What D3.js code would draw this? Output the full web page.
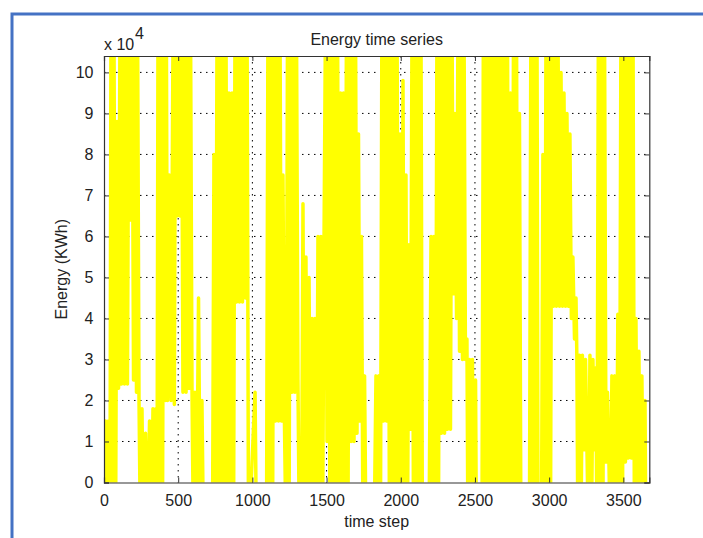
<!DOCTYPE html>
<html><head><meta charset="utf-8">
<script src="https://cdn.jsdelivr.net/npm/d3@7"></script>
<style>html,body{margin:0;padding:0;background:#fff;}svg{display:block;}</style>
</head><body>
<svg id="c" width="703" height="538"></svg>
<script>
// Energy time series (values beyond the axis limits are clipped, as in the original)
const steps = [0,10,20,30,40,47,57,67,78,88,98,108,118,128,138,148,158,168,179,189,199,209,219,226,236,
246,256,266,280,293,307,320,330,340,350,357,364,374,384,394,404,414,420,428,440,452,466,474,482,
492,502,512,522,532,543,553,563,573,583,593,603,613,623,637,650,660,671,731,741,751,
762,772,782,792,802,812,822,832,842,852,863,873,883,893,903,913,923,933,943,954,964,974,1018,1028,1095,
1105,1115,1125,1136,1146,1156,1166,1176,1186,1196,1206,1216,1227,1237,1247,1257,1267,1277,1287,1297,1307,
1317,1331,1341,1351,1361,1371,1382,1392,1402,1412,1422,1432,1442,1452,1462,1473,1483,1493,1503,1513,1523,1533,1543,1553,1564,1574,1584,
1594,1604,1614,1624,1634,1644,1655,1665,1675,1685,1695,1705,1715,1725,1735,1746,1756,1766,1820,
1833,1843,1853,1863,1873,1884,1894,1904,1914,1924,1934,1944,1954,1964,1975,1985,
1995,2005,2015,2025,2035,2045,2055,2066,2076,2086,2096,2106,2116,2126,2136,2146,2190,
2204,2214,2224,2234,2244,2254,2264,2274,2285,2295,2305,2315,2325,2335,2345,2355,2365,2376,
2386,2396,2406,2416,2426,2436,2446,2453,2463,2473,2483,2493,2504,2510,2547,
2557,2567,2578,2588,2598,2608,2618,2628,2638,2648,2659,2669,2679,2689,2699,2709,2719,2729,2739,2750,
2760,2770,2780,2790,2800,2810,2867,2877,2888,2898,2908,2918,2925,2948,2958,2969,
2979,2989,2999,3009,3019,3029,3039,3049,3059,3070,3080,3090,3100,3110,3120,3130,3140,
3150,3160,3171,3181,3187,3194,3204,3214,3224,3235,3245,3255,3265,3275,3285,3295,3305,3315,3322,
3332,3342,3352,3362,3373,3383,3393,3403,3413,3423,3433,3443,3453,3463,3474,
3484,3494,3504,3514,3524,3534,3544,3554,3565,3575,3585,3595,3605,3615,3625,3636,3646,3652,3675];
const energy = [3000,15000,-15000,15000,-15000,115000,-15000,115000,-15000,88000,23000,115000,24000,115000,24000,115000,24000,115000,64000,115000,25000,115000,22000,115000,20000,
-15000,18000,-15000,12000,-15000,15000,-15000,18000,-15000,18000,-15000,115000,-15000,115000,-15000,115000,20000,115000,20000,75000,20000,115000,19000,115000,
65000,115000,65000,115000,22000,115000,22000,115000,23000,115000,23000,-15000,22000,-15000,45000,-15000,20000,-15000,-15000,80000,-15000,
115000,-15000,115000,-15000,115000,-15000,115000,-15000,95000,-15000,95000,-15000,115000,44000,115000,44000,115000,44000,115000,45000,115000,-15000,22000,-15000,-15000,
115000,-15000,115000,-15000,115000,15000,115000,15000,115000,15000,75000,15000,-15000,115000,-15000,115000,22000,115000,22000,115000,25000,
-15000,-15000,68000,-15000,55000,-15000,50000,-15000,40000,-15000,40000,-15000,60000,-15000,60000,-15000,60000,115000,10000,115000,-15000,115000,-15000,115000,-15000,115000,-15000,
95000,-15000,95000,-15000,115000,-15000,115000,10000,115000,10000,115000,12000,85000,15000,60000,-15000,26000,-15000,-15000,
26000,-15000,26000,-15000,115000,15000,115000,15000,115000,-15000,115000,-15000,115000,-15000,115000,-15000,
85000,-15000,98000,-15000,75000,-15000,58000,13000,115000,-15000,115000,-15000,115000,-15000,115000,-15000,-15000,
60000,-15000,60000,-15000,115000,-15000,115000,12000,115000,12000,115000,13000,115000,13000,115000,46000,90000,40000,
115000,32000,115000,30000,115000,30000,35000,-15000,30000,-15000,30000,-15000,25000,-15000,-15000,
115000,-15000,115000,-15000,115000,-15000,115000,-15000,115000,-15000,115000,-15000,115000,-15000,115000,-15000,115000,-15000,95000,-15000,
115000,-15000,115000,-15000,90000,-15000,-15000,115000,-15000,115000,-15000,115000,-15000,-15000,80000,-15000,
115000,-15000,115000,-15000,115000,43000,115000,43000,115000,43000,100000,43000,95000,43000,90000,43000,85000,
40000,55000,35000,45000,30000,-15000,31000,-15000,31000,8000,30000,8000,-15000,31000,-15000,30000,8000,28000,-15000,
115000,-15000,115000,-15000,115000,5000,22000,5000,-15000,26000,-15000,26000,-15000,41000,-15000,
115000,-15000,115000,5000,115000,6000,115000,6000,115000,-15000,40000,-15000,32000,-15000,26000,-15000,20000,-15000,-15000];
const xTicks = [0,500,1000,1500,2000,2500,3000,3500];
const yTicks = [0,10000,20000,30000,40000,50000,60000,70000,80000,90000,100000];
const yTickLabels = ["0","1","2","3","4","5","6","7","8","9","10"];

const svg = d3.select("#c");
const L=104, R=649.3, T=56, B=482.5;
const x = d3.scaleLinear().domain([0,3675]).range([L,R]);
const y = d3.scaleLinear().domain([0,104000]).range([B,T]);
const font = "'Liberation Sans', Arial, Helvetica, sans-serif";

// outer blue frame
svg.append("path").attr("d","M12,540 L12,14 L705,14").attr("fill","none")
  .attr("stroke","#4472C4").attr("stroke-width",3);

svg.append("clipPath").attr("id","pc").append("rect")
  .attr("x",L).attr("y",T).attr("width",R-L).attr("height",B-T);

// grid (below data)
const g = svg.append("g");
xTicks.forEach(t=>{ if(t>0) g.append("line").attr("x1",x(t)).attr("x2",x(t)).attr("y1",T).attr("y2",B)
  .attr("stroke","#000").attr("stroke-width",1).attr("stroke-dasharray","1.5,4.5"); });
yTicks.forEach(t=>{ if(t>0) g.append("line").attr("x1",L).attr("x2",R).attr("y1",y(t)).attr("y2",y(t))
  .attr("stroke","#000").attr("stroke-width",1).attr("stroke-dasharray","1.5,4.5"); });

// data line
const data = steps.map((s,i)=>[s,energy[i]]);
svg.append("path").datum(data).attr("clip-path","url(#pc)")
  .attr("fill","none").attr("stroke","#ffff00").attr("stroke-width",3.5)
  .attr("stroke-linejoin","round")
  .attr("d", d3.line().x(d=>x(d[0])).y(d=>y(d[1])));

// axes (ticks inward, box on)
const ax = svg.append("g");
ax.append("g").attr("transform",`translate(0,${B})`)
  .call(d3.axisBottom(x).tickValues(xTicks).tickSize(-5).tickPadding(12).tickFormat(d3.format("d")));
ax.append("g").attr("transform",`translate(0,${T})`)
  .call(d3.axisTop(x).tickValues(xTicks).tickSize(-5).tickFormat(""));
ax.append("g").attr("transform",`translate(${L},0)`)
  .call(d3.axisLeft(y).tickValues(yTicks).tickSize(-5).tickPadding(10.5).tickFormat((d,i)=>yTickLabels[i]));
ax.append("g").attr("transform",`translate(${R},0)`)
  .call(d3.axisRight(y).tickValues(yTicks).tickSize(-5).tickFormat(""));
ax.selectAll(".domain").attr("stroke","#333").attr("stroke-width",1.2);
ax.selectAll(".tick line").attr("stroke","#333");
ax.selectAll("text").attr("font-family",font).attr("font-size",16).attr("fill","#222");

// titles
svg.append("text").attr("x",(L+R)/2).attr("y",45).attr("text-anchor","middle")
  .attr("font-family",font).attr("font-size",16).attr("fill","#222").text("Energy time series");
svg.append("text").attr("x",(L+R)/2).attr("y",527).attr("text-anchor","middle")
  .attr("font-family",font).attr("font-size",16).attr("fill","#222").text("time step");
svg.append("text").attr("transform",`translate(67,${(T+B)/2}) rotate(-90)`).attr("text-anchor","middle")
  .attr("font-family",font).attr("font-size",16).attr("fill","#222").text("Energy (KWh)");
svg.append("text").attr("x",104).attr("y",50).attr("font-family",font).attr("font-size",16).attr("fill","#222").text("x 10");
svg.append("text").attr("x",135).attr("y",39).attr("font-family",font).attr("font-size",16).attr("fill","#222").text("4");
</script>
</body></html>
